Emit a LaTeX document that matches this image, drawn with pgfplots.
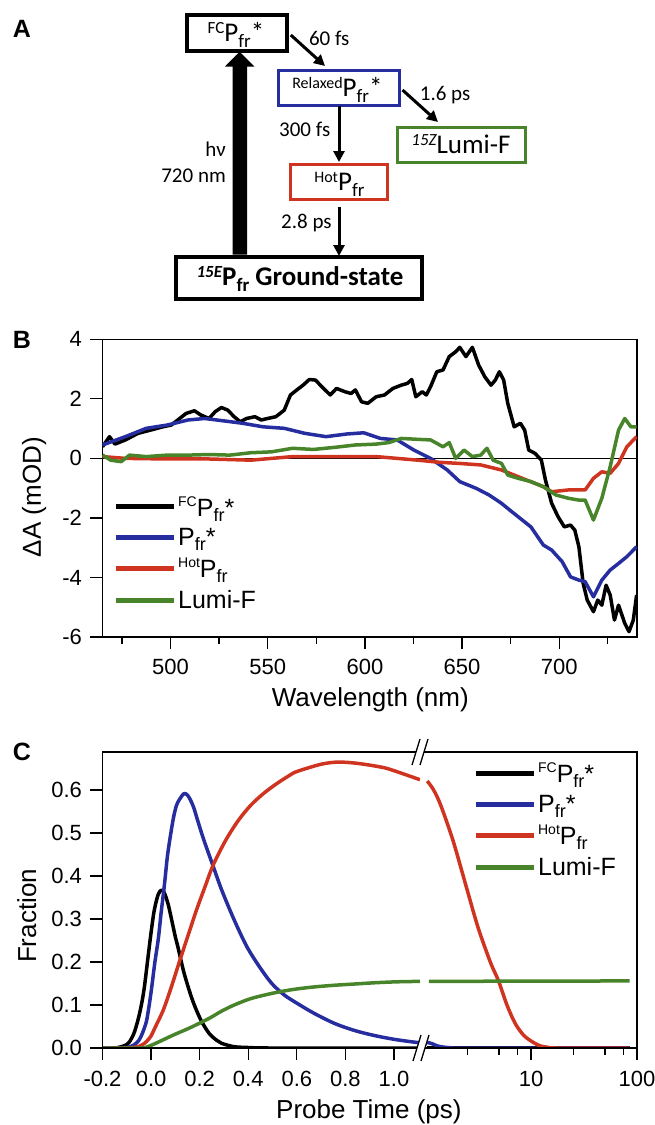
\documentclass[border=0pt]{standalone}
\usepackage{fontspec}
\setmainfont{Liberation Sans}
\newfontfamily\calibri{Carlito}
\usepackage{pgfplots}
\pgfplotsset{compat=1.18}
\usetikzlibrary{arrows.meta}
\definecolor{cblue}{RGB}{38,45,158}
\definecolor{cred}{RGB}{206,52,32}
\definecolor{cgreen}{RGB}{72,132,42}
\newcommand{\fs}[1]{\fontsize{#1}{#1}\selectfont}
\newcommand{\lo}[3]{\raisebox{#2}{\fontsize{#1}{#1}\selectfont #3}}

\pgfplotstableread{
x y
465 0.39
468.6 0.73
471.4 0.48
476.8 0.62
483.2 0.84
489.7 0.95
496 1.06
500.4 1.12
504.7 1.34
508 1.51
512.3 1.60
515.5 1.46
519.8 1.34
523 1.57
526.2 1.71
529.5 1.62
532.7 1.40
535.9 1.23
539.1 1.34
543.4 1.40
546.7 1.29
549.9 1.34
554.2 1.40
558.5 1.62
561.7 2.13
565 2.30
568.2 2.46
571.4 2.65
574.6 2.63
577.8 2.41
582.2 2.13
585.4 2.35
589.7 2.24
592.9 2.18
595.1 2.30
598.3 1.90
601.5 1.85
605.8 2.07
610.1 2.13
614.4 2.35
618.7 2.46
621.9 2.52
624.1 2.65
626.2 2.07
629.5 2.24
631.6 2.13
633.8 2.41
637 2.91
640.2 2.97
643.4 3.42
646.7 3.58
648.8 3.73
652 3.42
655.3 3.73
658.5 3.14
661.7 2.74
664.9 2.46
667.1 2.63
669.2 2.91
671.4 2.63
673.5 1.85
676.8 1.06
680 1.18
682.2 0.95
684.3 0.28
687.5 0.17
690.8 -0.06
692.9 -0.73
696.1 -1.51
699.4 -1.96
702.6 -2.30
705.8 -2.24
708 -2.41
710.1 -2.97
712.3 -4.20
714.4 -4.76
717.6 -5.15
719.8 -4.76
721.9 -4.93
724.1 -4.26
726.2 -4.59
728.4 -5.43
730.5 -4.93
733.7 -5.54
735.9 -5.82
738.1 -5.43
739.8 -4.59
}\specFC

\pgfplotstableread{
x y
465 0.45
476.8 0.73
487.5 1.01
498.3 1.12
509 1.29
517.6 1.34
526.2 1.27
537 1.18
547.7 1.06
558.5 1.01
569.2 0.84
580 0.73
590.8 0.82
599.4 0.86
608 0.67
616.6 0.62
625.2 0.28
633.8 0.0
642.4 -0.39
648.8 -0.78
657.4 -1.01
663.9 -1.23
670.3 -1.51
674.6 -1.74
680 -2.02
685.4 -2.30
691.8 -2.91
696.1 -3.08
701.5 -3.47
705.8 -3.98
710.1 -4.09
713.3 -4.14
717.6 -4.65
721.9 -4.09
726.2 -3.75
730.5 -3.53
734.8 -3.30
739.8 -2.97
}\specPfr

\pgfplotstableread{
x y
465 0.06
476.8 0.0
498.3 -0.02
519.8 -0.02
541.3 -0.06
562.8 0.06
584.3 0.06
605.8 0.06
616.6 0.0
627.3 -0.06
638.1 -0.13
648.8 -0.17
659.6 -0.22
670.3 -0.39
681 -0.67
691.8 -0.95
696.1 -1.12
704.7 -1.06
713.3 -1.06
717.6 -0.67
721.9 -0.45
726.2 -0.50
730.5 -0.17
734.8 0.39
739.8 0.73
}\specHot

\pgfplotstableread{
x y
465 0.11
469.2 -0.06
474.6 -0.11
478.9 0.11
487.5 0.06
498.3 0.11
509 0.11
519.8 0.13
530.5 0.11
541.3 0.19
552 0.22
562.8 0.34
573.5 0.30
584.3 0.37
595.1 0.45
605.8 0.48
612.3 0.53
618.7 0.67
627.3 0.64
633.8 0.62
640.2 0.39
643.4 0.53
646.7 0.0
651 0.28
655.3 0.06
659.6 0.11
662.8 0.34
666 -0.06
670.3 -0.17
673.5 -0.56
678.9 -0.67
685.4 -0.78
691.8 -0.95
698.3 -1.23
704.7 -1.34
710.1 -1.40
713.3 -1.40
717.6 -2.07
721.9 -1.34
726.2 -0.28
730.5 0.95
733.7 1.34
736.9 1.06
739.8 1.06
}\specLumi

% ---- kinetics, linear part ----
\pgfplotstableread{
x y
-0.2 0
-0.15 0
-0.123 0.003
-0.1 0.008
-0.088 0.015
-0.07 0.035
-0.054 0.065
-0.04 0.10
-0.028 0.14
-0.015 0.20
-0.002 0.26
0.01 0.31
0.019 0.336
0.03 0.358
0.041 0.367
0.05 0.365
0.058 0.356
0.07 0.335
0.084 0.30
0.1 0.258
0.11 0.236
0.136 0.174
0.17 0.112
0.205 0.065
0.239 0.034
0.27 0.018
0.29 0.011
0.342 0.003
0.41 0.001
0.5 0
1.107 0
}\kinFC

\pgfplotstableread{
x y
-0.2 0
-0.105 0.001
-0.071 0.007
-0.05 0.018
-0.036 0.034
-0.02 0.06
-0.011 0.088
0.0 0.13
0.015 0.197
0.03 0.255
0.041 0.313
0.055 0.38
0.067 0.445
0.08 0.495
0.093 0.538
0.105 0.565
0.119 0.58
0.136 0.592
0.15 0.588
0.162 0.577
0.175 0.56
0.187 0.538
0.205 0.505
0.222 0.476
0.256 0.422
0.291 0.367
0.342 0.298
0.394 0.236
0.446 0.189
0.497 0.150
0.549 0.123
0.601 0.104
0.67 0.081
0.756 0.057
0.842 0.040
0.928 0.028
1.014 0.019
1.107 0.012
}\kinPfr

\pgfplotstableread{
x y
-0.2 0
-0.105 0
-0.08 0.001
-0.054 0.003
-0.035 0.008
-0.019 0.015
0.0 0.028
0.015 0.046
0.05 0.088
0.084 0.143
0.119 0.205
0.153 0.263
0.187 0.321
0.222 0.375
0.256 0.426
0.308 0.484
0.36 0.53
0.411 0.565
0.463 0.592
0.515 0.614
0.567 0.633
0.6 0.643
0.7 0.660
0.77 0.665
0.85 0.662
0.95 0.653
1.0 0.645
1.107 0.624
}\kinHot

\pgfplotstableread{
x y
-0.2 0
-0.045 0
-0.01 0.004
0.023 0.012
0.091 0.030
0.16 0.047
0.239 0.069
0.291 0.086
0.342 0.100
0.411 0.115
0.497 0.127
0.583 0.136
0.67 0.142
0.756 0.146
0.842 0.149
0.928 0.152
1.014 0.154
1.107 0.155
}\kinLumi

% ---- kinetics, log part ----
\pgfplotstableread{
x y
1.05 0
85 0
}\logFC

\pgfplotstableread{
x y
1.05 0.013
1.17 0.010
1.3 0.005
1.5 0.002
1.8 0.0005
2.2 0
85 0
}\logPfr

\pgfplotstableread{
x y
1.05 0.621
1.2 0.601
1.4 0.566
1.83 0.484
2.4 0.383
3.15 0.282
4.13 0.20
4.94 0.156
5.93 0.10
7.1 0.057
8.5 0.030
10.2 0.015
12.2 0.005
14.6 0.0015
17.5 0
85 0
}\logHot

\pgfplotstableread{
x y
1.09 0.155
85 0.156
}\logLumi

\begin{document}
\begin{tikzpicture}[x=1pt,y=1pt]
\useasboundingbox (0,0) rectangle (655,-1125);

% ================= Panel A =================
\node[font=\fs{25}\bfseries] at (22,-29) {A};
\begin{scope}[font=\calibri\fs{27}]
\draw[line width=4pt] (187.4,-15) rectangle (286.6,-50.7);
\node[anchor=base,inner sep=0pt] at (236,-41.7) {\lo{17}{8pt}{FC}P\lo{19}{-6pt}{fr}*};
\draw[line width=3pt,cblue] (278,-70) rectangle (399.6,-105);
\node[anchor=base,inner sep=0pt] at (337.4,-96.7) {\lo{16}{8pt}{Relaxed}P\lo{19}{-6pt}{fr}*};
\draw[line width=3pt,cgreen] (397.5,-127) rectangle (525,-162);
\node[anchor=base,inner sep=0pt] at (461,-153.3) {\lo{17}{8pt}{\itshape 15Z}Lumi-F};
\draw[line width=3pt,cred] (290.8,-164) rectangle (387,-199.3);
\node[anchor=base,inner sep=0pt] at (339.4,-190) {\lo{16}{8pt}{Hot}P\lo{19}{-6pt}{fr}};
\draw[line width=4pt] (175.7,-256.7) rectangle (421.8,-299);
\node[anchor=base,inner sep=0pt] at (300,-285) {\bfseries\lo{17}{8pt}{\bfseries\itshape 15E}P\lo{19}{-6pt}{\bfseries fr} Ground-state};
\end{scope}
% arrows
\fill (232.5,-254.7) -- (232.5,-66.5) -- (225,-66.5) -- (239.7,-51.7) -- (254.3,-66.5) -- (247,-66.5) -- (247,-254.7) -- cycle;
\begin{scope}[line width=3pt, -{Triangle[length=11pt,width=11pt]}]
\draw (290.8,-35) -- (325,-66);
\draw (402.5,-90) -- (438,-122);
\draw (339,-106) -- (339,-162);
\draw (339,-206.7) -- (339,-256);
\end{scope}
\begin{scope}[font=\calibri\fs{21}, inner sep=0pt]
\node[anchor=base west] at (308.8,-45) {60 fs};
\node[anchor=base west] at (419.7,-100) {1.6 ps};
\node[anchor=base west] at (279,-136.7) {300 fs};
\node[anchor=base west] at (281,-228.3) {2.8 ps};
\node[anchor=base east] at (226,-156.7) {hν};
\node[anchor=base east] at (226,-182.7) {720 nm};
\end{scope}

% ================= Panel B =================
\node[font=\fs{25}\bfseries] at (22,-340) {B};
\begin{axis}[
  at={(102.5pt,-637pt)}, anchor=south west,
  scale only axis, width=534.5pt, height=297.7pt,
  xmin=465, xmax=740, ymin=-6, ymax=4,
  xtick={500,550,600,650,700}, xticklabels={500,550,600,650,700},
  minor xtick={475,525,575,625,675,725},
  ytick={-6,-4,-2,0,2,4}, yticklabels={-6,-4,-2,0,2,4},
  tick align=outside, xtick pos=bottom, ytick pos=left,
  major tick length=12pt, minor tick length=7pt,
  every tick/.style={black, line width=1.3pt},
  axis line style={line width=1.3pt},
  ticklabel style={font=\fs{22}},
  xticklabel style={yshift=-7pt},
  yticklabel style={xshift=-5pt},
  xlabel={Wavelength (nm)}, ylabel={ΔA (mOD)},
  label style={font=\fs{26}},
  xlabel style={at={(axis description cs:0.501,-0.212)}, anchor=center},
  ylabel style={at={(axis description cs:-0.128,0.47)}, anchor=center, rotate=0},
  legend cell align=left,
  legend image code/.code={\draw[#1, line width=5pt] (0pt,0pt) -- (58pt,0pt);},
  legend style={at={(axis description cs:0.0196,0.48)}, anchor=north west,
    draw=none, fill=none, font=\fs{25}, row sep=7pt, inner sep=0pt,
    /tikz/every even column/.append style={column sep=6pt}},
  every axis plot/.append style={line width=3.5pt, line join=round},
]
\addplot[black, line width=1.2pt, forget plot] coordinates {(465,0) (740,0)};
\addplot[black] table {\specFC};
\addplot[cblue] table {\specPfr};
\addplot[cred] table {\specHot};
\addplot[cgreen] table {\specLumi};
\legend{\lo{14}{10pt}{FC}P\lo{18}{-5pt}{fr}*, P\lo{18}{-5pt}{fr}*, \lo{14}{10pt}{Hot}P\lo{18}{-5pt}{fr}, Lumi-F}
\end{axis}

% ================= Panel C =================
\node[font=\fs{25}\bfseries] at (22,-752) {C};
\begin{axis}[
  at={(102.5pt,-1048pt)}, anchor=south west,
  scale only axis, width=317.5pt, height=296pt,
  xmin=-0.2, xmax=1.107, ymin=0, ymax=0.6884,
  xtick={-0.2,0,0.2,0.4,0.6,0.8,1.0},
  xticklabels={-0.2,0.0,0.2,0.4,0.6,0.8,1.0},
  ytick={0,0.1,0.2,0.3,0.4,0.5,0.6},
  yticklabels={0.0,0.1,0.2,0.3,0.4,0.5,0.6},
  tick align=outside, xtick pos=bottom, ytick pos=left,
  major tick length=12pt,
  every tick/.style={black, line width=1.3pt},
  axis line style={draw=none},
  ticklabel style={font=\fs{22}},
  xticklabel style={yshift=-8pt},
  yticklabel style={xshift=-5pt},
  xlabel={Probe Time (ps)}, ylabel={Fraction},
  label style={font=\fs{26}},
  xlabel style={at={(axis description cs:0.839,-0.216)}, anchor=center},
  ylabel style={at={(axis description cs:-0.238,0.446)}, anchor=center, rotate=0},
  every axis plot/.append style={line width=3.5pt, line join=round, smooth},
]
\addplot[black] table {\kinFC};
\addplot[cblue] table {\kinPfr};
\addplot[cred] table {\kinHot};
\addplot[cgreen] table {\kinLumi};
\end{axis}
\begin{axis}[
  at={(425pt,-1048pt)}, anchor=south west,
  scale only axis, width=212pt, height=296pt,
  xmode=log, xmin=1, xmax=100, ymin=0, ymax=0.6884,
  xtick={10,100}, xticklabels={10,100},
  minor xtick={2.5,5,7.5,25,50,75},
  ytick=\empty,
  tick align=outside, xtick pos=bottom,
  major tick length=12pt, minor tick length=7pt,
  every tick/.style={black, line width=1.3pt},
  axis line style={draw=none},
  ticklabel style={font=\fs{22}},
  xticklabel style={yshift=-8pt},
  legend cell align=left,
  legend image code/.code={\draw[#1, line width=5pt] (0pt,0pt) -- (58pt,0pt);},
  legend style={at={(axis description cs:0.226,0.97)}, anchor=north west,
    draw=none, fill=none, font=\fs{25}, row sep=7pt, inner sep=0pt,
    /tikz/every even column/.append style={column sep=6pt}},
  every axis plot/.append style={line width=3.5pt, line join=round, smooth},
]
\addplot[black] table {\logFC};
\addplot[cblue] table {\logPfr};
\addplot[cred] table {\logHot};
\addplot[cgreen] table {\logLumi};
\legend{\lo{14}{10pt}{FC}P\lo{18}{-5pt}{fr}*, P\lo{18}{-5pt}{fr}*, \lo{14}{10pt}{Hot}P\lo{18}{-5pt}{fr}, Lumi-F}
\end{axis}
\draw[line width=1.3pt] (102.5,-752) rectangle (637,-1048);
% axis break marks
\fill[white] (412,-765) -- (420,-739) -- (428,-739) -- (420,-765) -- cycle;
\draw[line width=1.3pt] (412,-765) -- (420,-739) (420,-765) -- (428,-739);
\fill[white] (413,-1061) -- (421,-1035) -- (429,-1035) -- (421,-1061) -- cycle;
\draw[line width=1.3pt] (413,-1061) -- (421,-1035) (421,-1061) -- (429,-1035);
\end{tikzpicture}
\end{document}
